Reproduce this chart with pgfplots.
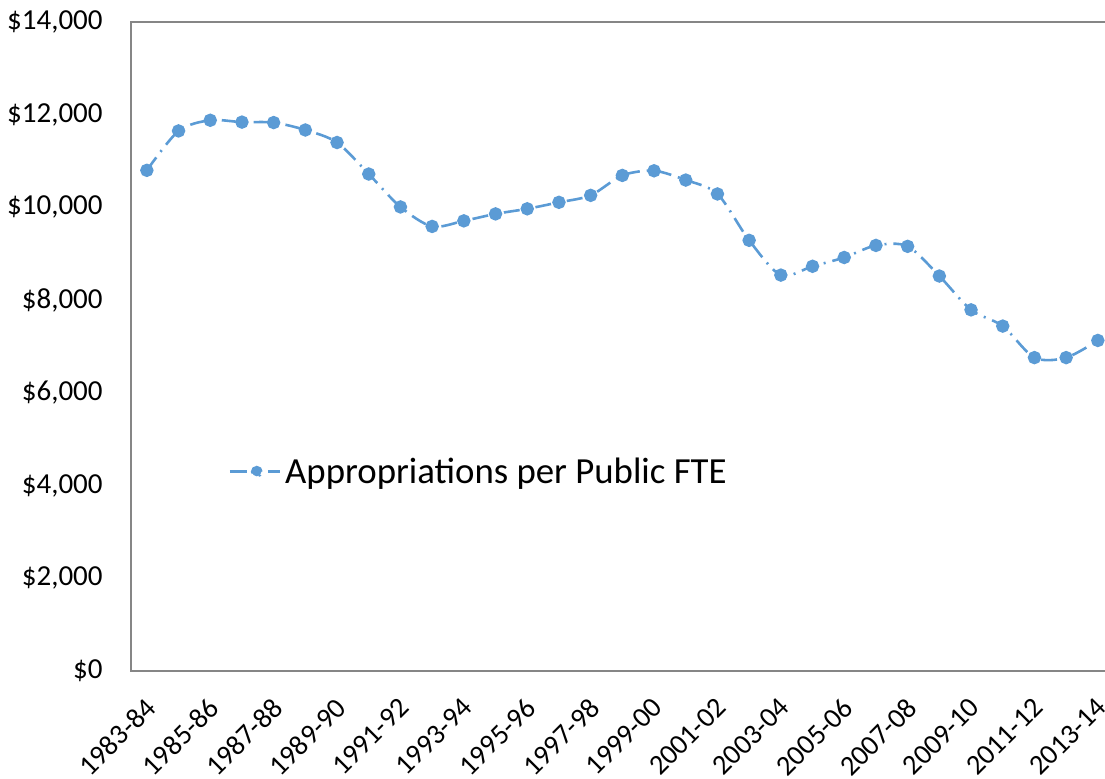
\documentclass[border=0pt]{standalone}
\usepackage{fontspec}
\setmainfont{Carlito}
\usepackage{pgfplots}
\pgfplotsset{compat=1.18}
\definecolor{ser}{HTML}{5B9BD5}
\definecolor{axgray}{HTML}{868686}
\pgfplotstableread{
x y
0 10800
1 11650
2 11880
3 11840
4 11830
5 11670
6 11400
7 10720
8 10010
9 9590
10 9710
11 9860
12 9970
13 10110
14 10260
15 10690
16 10790
17 10590
18 10290
19 9290
20 8540
21 8730
22 8920
23 9180
24 9160
25 8520
26 7790
27 7440
28 6760
29 6760
30 7130
}\datatable
\begin{document}
\begin{tikzpicture}
\useasboundingbox (-65.5pt,-54pt) rectangle (487pt,335.5pt);
\begin{axis}[
  at={(0,0)}, anchor=south west,
  scale only axis,
  width=491.35pt, height=324.5pt,
  xmin=-0.5, xmax=30.5,
  ymin=0, ymax=14000,
  axis line style={axgray, line width=1pt},
  tick style={draw=none},
  ytick={0,2000,...,14000},
  scaled y ticks=false,
  yticklabel={\$\pgfmathprintnumber{\tick}},
  /pgf/number format/.cd, fixed, 1000 sep={,}, assume math mode=true,
  /pgfplots/.cd,
  xtick={0,2,...,30},
  xticklabels={1983-84,1985-86,1987-88,1989-90,1991-92,1993-94,1995-96,1997-98,1999-00,2001-02,2003-04,2005-06,2007-08,2009-10,2011-12,2013-14},
  yticklabel style={font=\fontsize{14.5}{16}\selectfont, text=black, anchor=east, inner sep=0pt, xshift=-14pt},
  xticklabel shift=12.5pt,
  xticklabel style={font=\fontsize{14.2}{16}\selectfont, text=black, inner sep=0pt, xshift=-1.5pt, rotate=45, anchor=north east},
  legend style={at={(0.0987,0.307)}, anchor=west, draw=none, fill=none,
    font=\fontsize{18.4}{20}\selectfont, inner sep=0pt, inner xsep=0pt,
    /tikz/every even column/.append style={column sep=0pt}},
  legend cell align=left,
  legend image code/.code={
    \draw[ser, line width=1.4pt, solid] (0pt,0pt) -- (8.5pt,0pt);
    \fill[ser] (13.5pt,0pt) circle (2.3pt);
    \draw[ser, line width=1.4pt, solid] (19pt,0pt) -- (25pt,0pt);
  },
]
\addplot[ser, line width=1.3pt, smooth, dash pattern=on 8pt off 3.5pt on 1pt off 3.5pt,
  mark=*, mark size=2.7pt, mark options={solid, fill=ser, draw=ser}]
  table[x=x, y=y] {\datatable};
\addlegendentry{Appropriations per Public FTE}
\end{axis}
\end{tikzpicture}
\end{document}
